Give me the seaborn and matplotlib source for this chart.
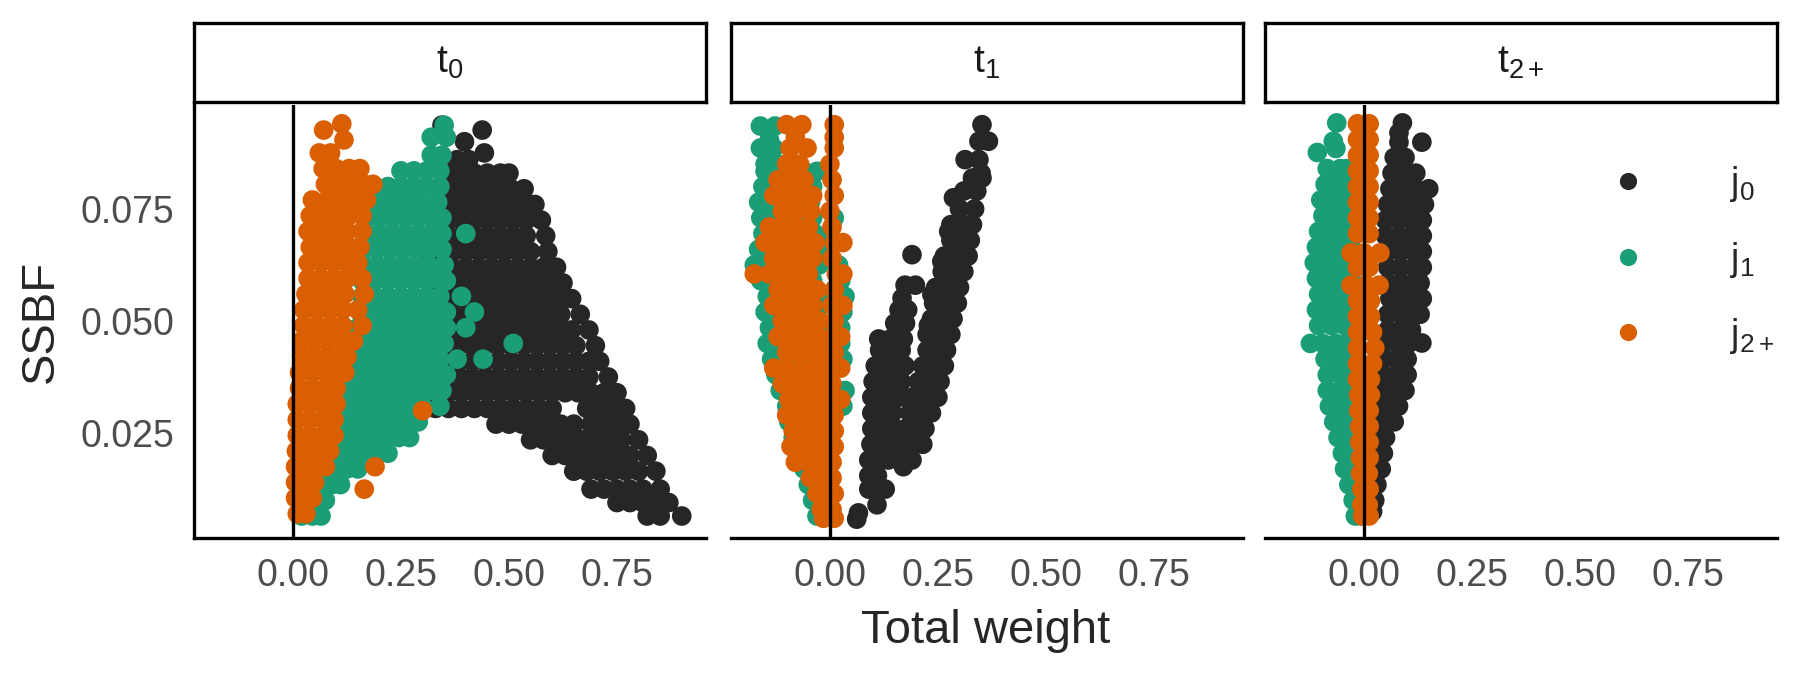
import matplotlib
matplotlib.use("Agg")
import matplotlib.pyplot as plt
import seaborn as sns
import pandas as pd

# Panels, groups and colours
panels = ["t0", "t1", "t2+"]
panel_titles = [r"$\mathregular{t_0}$", r"$\mathregular{t_1}$", r"$\mathregular{t_{2+}}$"]
groups = ["j0", "j1", "j2+"]
group_labels = [r"$\mathregular{j_0}$", r"$\mathregular{j_1}$", r"$\mathregular{j_{2+}}$"]
group_colors = ["#262626", "#1B9E77", "#D95F02"]

# Points, as (SSBF, [total weight, ...]) rows
t0_j0 = [
    (0.0937, [0.345]), (0.0926, [0.438]), (0.0900, [0.397]), (0.0875, [0.443]),
    (0.0860, [0.38, 0.407]),
    (0.0830, [0.36, 0.39, 0.42, 0.45, 0.48, 0.50]),
    (0.0795, [0.355, 0.385, 0.415, 0.445, 0.475, 0.505, 0.535]),
    (0.0760, [0.34, 0.37, 0.40, 0.43, 0.46, 0.49, 0.52, 0.55, 0.56]),
    (0.0725, [0.33, 0.36, 0.39, 0.42, 0.45, 0.48, 0.51, 0.54, 0.575]),
    (0.0690, [0.30, 0.33, 0.36, 0.39, 0.42, 0.45, 0.48, 0.51, 0.54, 0.585]),
    (0.0655, [0.31, 0.34, 0.37, 0.40, 0.43, 0.46, 0.49, 0.52, 0.55, 0.59]),
    (0.0620, [0.31, 0.34, 0.37, 0.40, 0.43, 0.46, 0.49, 0.52, 0.55, 0.58, 0.61]),
    (0.0585, [0.33, 0.36, 0.39, 0.42, 0.45, 0.48, 0.51, 0.54, 0.57, 0.60, 0.625]),
    (0.0550, [0.355, 0.385, 0.415, 0.445, 0.475, 0.505, 0.535, 0.565, 0.595, 0.625, 0.645]),
    (0.0515, [0.35, 0.38, 0.41, 0.44, 0.47, 0.50, 0.53, 0.56, 0.59, 0.62, 0.665]),
    (0.0480, [0.345, 0.375, 0.405, 0.435, 0.465, 0.495, 0.525, 0.555, 0.585, 0.615, 0.645, 0.685]),
    (0.0445, [0.355, 0.385, 0.415, 0.445, 0.475, 0.505, 0.535, 0.565, 0.595, 0.625, 0.655, 0.70]),
    (0.0410, [0.355, 0.385, 0.415, 0.445, 0.475, 0.505, 0.535, 0.565, 0.595, 0.625, 0.655, 0.685, 0.71]),
    (0.0375, [0.355, 0.385, 0.415, 0.445, 0.475, 0.505, 0.535, 0.565, 0.595, 0.625, 0.655, 0.685, 0.73]),
    (0.0340, [0.33, 0.36, 0.39, 0.42, 0.45, 0.48, 0.51, 0.54, 0.57, 0.60, 0.63, 0.66, 0.69, 0.72, 0.75]),
    (0.0305, [0.30, 0.33, 0.36, 0.39, 0.42, 0.45, 0.48, 0.51, 0.54, 0.57, 0.60, 0.68, 0.71, 0.74, 0.77]),
    (0.0270, [0.47, 0.50, 0.53, 0.56, 0.59, 0.62, 0.65, 0.69, 0.72, 0.75, 0.78]),
    (0.0235, [0.55, 0.58, 0.61, 0.64, 0.67, 0.70, 0.73, 0.76, 0.80]),
    (0.0200, [0.60, 0.63, 0.66, 0.69, 0.72, 0.75, 0.78, 0.82]),
    (0.0165, [0.65, 0.68, 0.71, 0.74, 0.77, 0.80, 0.84]),
    (0.0125, [0.69, 0.72, 0.75, 0.78, 0.81, 0.85]),
    (0.0095, [0.75, 0.78, 0.81, 0.84, 0.87]),
    (0.0065, [0.82, 0.85, 0.90]),
]
t0_j1 = [
    (0.0937, [0.35]), (0.0910, [0.32, 0.355]), (0.0870, [0.32, 0.345]),
    (0.0835, [0.25, 0.28, 0.31, 0.34]),
    (0.0800, [0.19, 0.22, 0.25, 0.28, 0.31, 0.34]),
    (0.0765, [0.18, 0.21, 0.24, 0.27, 0.30, 0.335]),
    (0.0730, [0.17, 0.20, 0.23, 0.26, 0.29, 0.32, 0.345]),
    (0.0695, [0.17, 0.20, 0.23, 0.26, 0.29, 0.32, 0.345, 0.40]),
    (0.0660, [0.165, 0.195, 0.225, 0.255, 0.285, 0.315, 0.345]),
    (0.0625, [0.165, 0.195, 0.225, 0.255, 0.285, 0.315, 0.35]),
    (0.0590, [0.16, 0.19, 0.22, 0.25, 0.28, 0.31, 0.34, 0.355]),
    (0.0555, [0.16, 0.19, 0.22, 0.25, 0.28, 0.31, 0.34, 0.39]),
    (0.0520, [0.155, 0.185, 0.215, 0.245, 0.275, 0.305, 0.335, 0.355, 0.42]),
    (0.0485, [0.15, 0.18, 0.21, 0.24, 0.27, 0.30, 0.33, 0.355, 0.40]),
    (0.0450, [0.14, 0.17, 0.20, 0.23, 0.26, 0.29, 0.32, 0.35, 0.51]),
    (0.0415, [0.13, 0.16, 0.19, 0.22, 0.25, 0.28, 0.31, 0.34, 0.38, 0.44]),
    (0.0380, [0.115, 0.145, 0.175, 0.205, 0.235, 0.265, 0.295, 0.325, 0.355]),
    (0.0345, [0.105, 0.135, 0.165, 0.195, 0.225, 0.255, 0.285, 0.315, 0.345]),
    (0.0310, [0.09, 0.12, 0.15, 0.18, 0.21, 0.24, 0.27, 0.30, 0.34]),
    (0.0275, [0.085, 0.115, 0.145, 0.175, 0.205, 0.235, 0.265, 0.29]),
    (0.0240, [0.065, 0.095, 0.125, 0.155, 0.185, 0.215, 0.245, 0.27]),
    (0.0205, [0.045, 0.075, 0.105, 0.135, 0.165, 0.195, 0.22]),
    (0.0170, [0.035, 0.065, 0.095, 0.125, 0.15]),
    (0.0135, [0.03, 0.06, 0.09, 0.11]),
    (0.0100, [0.025, 0.05, 0.075]),
    (0.0065, [0.02, 0.045, 0.065]),
]
t0_j2 = [
    (0.0940, [0.113]), (0.0926, [0.071]), (0.0904, [0.118]), (0.0875, [0.061, 0.087]),
    (0.0840, [0.07, 0.10, 0.13, 0.155]),
    (0.0805, [0.075, 0.105, 0.135, 0.165, 0.185]),
    (0.0770, [0.045, 0.08, 0.11, 0.14, 0.17]),
    (0.0735, [0.04, 0.07, 0.10, 0.13, 0.16]),
    (0.0700, [0.035, 0.065, 0.095, 0.125, 0.16]),
    (0.0665, [0.04, 0.07, 0.10, 0.13, 0.155]),
    (0.0630, [0.035, 0.065, 0.095, 0.125, 0.15]),
    (0.0595, [0.035, 0.065, 0.095, 0.125, 0.16]),
    (0.0560, [0.03, 0.06, 0.09, 0.12, 0.165]),
    (0.0525, [0.025, 0.055, 0.085, 0.115, 0.15]),
    (0.0490, [0.025, 0.055, 0.085, 0.115, 0.16]),
    (0.0455, [0.02, 0.05, 0.08, 0.11, 0.14]),
    (0.0420, [0.02, 0.05, 0.08, 0.11, 0.125]),
    (0.0385, [0.015, 0.045, 0.075, 0.105, 0.12]),
    (0.0350, [0.015, 0.045, 0.075, 0.10]),
    (0.0315, [0.01, 0.04, 0.07, 0.10]),
    (0.0300, [0.30]),
    (0.0280, [0.01, 0.04, 0.07, 0.095]),
    (0.0245, [0.01, 0.04, 0.07, 0.095]),
    (0.0210, [0.008, 0.035, 0.06, 0.085]),
    (0.0175, [0.006, 0.03, 0.055, 0.075, 0.19]),
    (0.0140, [0.006, 0.03, 0.05]),
    (0.0125, [0.165]),
    (0.0105, [0.006, 0.03, 0.045]),
    (0.0070, [0.01, 0.03]),
]
t1_j0 = [
    (0.0938, [0.352]), (0.0901, [0.345, 0.367]), (0.0860, [0.313, 0.345]),
    (0.0830, [0.35]), (0.0819, [0.33, 0.352]), (0.0790, [0.31, 0.34]),
    (0.0775, [0.286]), (0.0750, [0.30, 0.335]), (0.0715, [0.28, 0.31, 0.33]),
    (0.0700, [0.275]), (0.0680, [0.28, 0.31, 0.325]), (0.0645, [0.265, 0.29, 0.32]),
    (0.0648, [0.19]), (0.0633, [0.259]), (0.0610, [0.26, 0.285, 0.31]),
    (0.0580, [0.174, 0.198]), (0.0575, [0.245, 0.27, 0.30]), (0.0559, [0.236]),
    (0.0551, [0.167]), (0.0540, [0.24, 0.265, 0.295]), (0.0525, [0.16, 0.18]),
    (0.0505, [0.235, 0.26, 0.285]), (0.0495, [0.15, 0.175]), (0.0490, [0.228]),
    (0.0470, [0.225, 0.25, 0.28]), (0.0460, [0.113, 0.14, 0.17]),
    (0.0435, [0.115, 0.14, 0.165, 0.225, 0.25, 0.27]),
    (0.0400, [0.105, 0.13, 0.155, 0.174, 0.215, 0.24, 0.265]),
    (0.0365, [0.10, 0.125, 0.15, 0.165, 0.205, 0.23, 0.255]),
    (0.0330, [0.097, 0.12, 0.145, 0.16, 0.19, 0.215, 0.25]),
    (0.0295, [0.097, 0.12, 0.145, 0.185, 0.21, 0.235]),
    (0.0260, [0.097, 0.12, 0.15, 0.175, 0.20, 0.22]),
    (0.0225, [0.095, 0.12, 0.14, 0.17, 0.195, 0.215]),
    (0.0190, [0.09, 0.115, 0.135, 0.165, 0.19]),
    (0.0175, [0.17]), (0.0155, [0.09, 0.11]), (0.0125, [0.09, 0.128]),
    (0.0090, [0.109]), (0.0072, [0.066]), (0.0058, [0.062]),
]
t1_j1 = [
    (0.0935, [-0.161, -0.127]), (0.0905, [-0.14]), (0.0886, [-0.161, -0.130]),
    (0.0850, [-0.15, -0.12]),
    (0.0834, [-0.15, -0.12, -0.09, -0.06, -0.03]),
    (0.0800, [-0.155, -0.125, -0.095, -0.065, -0.04]),
    (0.0765, [-0.165, -0.135, -0.105, -0.075, -0.045]),
    (0.0730, [-0.16, -0.13, -0.10, -0.07, -0.04, 0.01]),
    (0.0695, [-0.155, -0.125, -0.095, -0.065, -0.035, 0.0]),
    (0.0660, [-0.165, -0.135, -0.105, -0.075, -0.045, -0.02]),
    (0.0625, [-0.175, -0.145, -0.115, -0.085, -0.055, -0.025, 0.02]),
    (0.0590, [-0.16, -0.13, -0.10, -0.07, -0.04, 0.025]),
    (0.0555, [-0.145, -0.115, -0.085, -0.055, -0.025, 0.035]),
    (0.0520, [-0.15, -0.12, -0.09, -0.06, -0.03, 0.03]),
    (0.0485, [-0.14, -0.11, -0.08, -0.05, -0.02, 0.025]),
    (0.0450, [-0.145, -0.115, -0.085, -0.055, -0.025, 0.025]),
    (0.0415, [-0.135, -0.105, -0.075, -0.045, -0.02, 0.03]),
    (0.0380, [-0.125, -0.095, -0.065, -0.035]),
    (0.0345, [-0.115, -0.085, -0.055, -0.03, 0.035]),
    (0.0310, [-0.10, -0.07, -0.04, 0.03]),
    (0.0275, [-0.095, -0.065, -0.035]),
    (0.0240, [-0.085, -0.055, -0.03]),
    (0.0205, [-0.075, -0.05, -0.025]),
    (0.0170, [-0.06, -0.035, -0.015]),
    (0.0135, [-0.05, -0.025]),
    (0.0100, [-0.04, -0.015]),
    (0.0065, [-0.03, -0.01]),
]
t1_j2 = [
    (0.0938, [-0.10, -0.065, 0.01]), (0.0910, [-0.08, 0.01]),
    (0.0886, [-0.092, -0.053, 0.01]), (0.0850, [-0.10, -0.07, 0.0]),
    (0.0815, [-0.12, -0.09, -0.06, 0.005]),
    (0.0780, [-0.13, -0.10, -0.07, -0.04, 0.01]),
    (0.0745, [-0.11, -0.08, -0.045, 0.0]),
    (0.0710, [-0.14, -0.11, -0.08, -0.05, 0.005]),
    (0.0675, [-0.15, -0.12, -0.09, -0.06, -0.035, 0.01, 0.03]),
    (0.0640, [-0.13, -0.10, -0.07, -0.04, 0.005]),
    (0.0605, [-0.175, -0.14, -0.11, -0.08, -0.05, 0.015, 0.03]),
    (0.0570, [-0.12, -0.09, -0.06, -0.03, 0.01]),
    (0.0535, [-0.13, -0.10, -0.07, -0.04, 0.005, 0.03]),
    (0.0500, [-0.11, -0.08, -0.05, -0.025, 0.01]),
    (0.0465, [-0.12, -0.09, -0.06, -0.03, 0.005, 0.025]),
    (0.0430, [-0.10, -0.07, -0.04, -0.02, 0.01]),
    (0.0395, [-0.13, -0.10, -0.07, -0.04, -0.015, 0.01, 0.025]),
    (0.0360, [-0.11, -0.08, -0.05, -0.02, 0.005]),
    (0.0325, [-0.095, -0.065, -0.04, -0.015, 0.01, 0.025]),
    (0.0290, [-0.10, -0.07, -0.045, -0.02, 0.01]),
    (0.0255, [-0.085, -0.06, -0.035, -0.01, 0.01]),
    (0.0220, [-0.09, -0.06, -0.035, -0.01, 0.01]),
    (0.0185, [-0.08, -0.05, -0.025, 0.005]),
    (0.0150, [-0.045, -0.02, 0.005]),
    (0.0115, [-0.03, -0.005, 0.01]),
    (0.0080, [-0.02, 0.005]),
    (0.0060, [-0.015, 0.01]),
]
t2_j0 = [
    (0.0942, [0.089]), (0.0920, [0.081]), (0.0899, [0.081, 0.134]),
    (0.0865, [0.07, 0.095]), (0.0830, [0.065, 0.095, 0.12]),
    (0.0795, [0.06, 0.09, 0.12, 0.15]), (0.0760, [0.055, 0.085, 0.115, 0.14]),
    (0.0725, [0.05, 0.08, 0.11, 0.135]), (0.0690, [0.05, 0.08, 0.11, 0.135]),
    (0.0655, [0.055, 0.085, 0.115, 0.135]), (0.0620, [0.055, 0.085, 0.115, 0.135]),
    (0.0585, [0.055, 0.085, 0.115, 0.13]), (0.0550, [0.06, 0.09, 0.12, 0.135]),
    (0.0515, [0.055, 0.085, 0.115, 0.13]), (0.0480, [0.055, 0.085, 0.11]),
    (0.0451, [0.05, 0.08, 0.105, 0.134]), (0.0415, [0.045, 0.075, 0.10]),
    (0.0380, [0.045, 0.075, 0.10]), (0.0345, [0.035, 0.065, 0.095]),
    (0.0310, [0.035, 0.06, 0.08]), (0.0275, [0.03, 0.055, 0.07]),
    (0.0240, [0.025, 0.05]), (0.0205, [0.02, 0.045]), (0.0170, [0.02, 0.04]),
    (0.0135, [0.015, 0.03]), (0.0100, [0.01, 0.025]), (0.0075, [0.005, 0.02]),
]
t2_j1 = [
    (0.0942, [-0.063]), (0.0901, [-0.071]), (0.0885, [-0.065]), (0.0876, [-0.108]),
    (0.0840, [-0.085, -0.055, -0.04]), (0.0805, [-0.09, -0.06, -0.035]),
    (0.0770, [-0.10, -0.07, -0.04]), (0.0735, [-0.095, -0.065, -0.035]),
    (0.0700, [-0.105, -0.075, -0.045, -0.03]), (0.0665, [-0.11, -0.08, -0.05, -0.03]),
    (0.0630, [-0.115, -0.085, -0.055, -0.03]), (0.0595, [-0.11, -0.08, -0.05, -0.03]),
    (0.0560, [-0.105, -0.075, -0.045, -0.03]), (0.0525, [-0.11, -0.08, -0.05, -0.035]),
    (0.0490, [-0.105, -0.075, -0.045, -0.035]), (0.0450, [-0.124, -0.095, -0.065, -0.04]),
    (0.0415, [-0.09, -0.06, -0.035]), (0.0380, [-0.085, -0.055, -0.03]),
    (0.0345, [-0.085, -0.055, -0.03]), (0.0310, [-0.08, -0.05, -0.025]),
    (0.0275, [-0.07, -0.045, -0.025]), (0.0240, [-0.06, -0.04, -0.02]),
    (0.0205, [-0.05, -0.03]), (0.0170, [-0.045, -0.025]), (0.0135, [-0.035, -0.015]),
    (0.0100, [-0.025, -0.01]), (0.0065, [-0.02, -0.005]),
]
t2_j2 = [
    (0.0940, [-0.015, 0.012]), (0.0905, [-0.015, 0.012]), (0.0870, [-0.015, 0.012]),
    (0.0835, [-0.015, 0.012]), (0.0800, [-0.015, 0.012]), (0.0765, [-0.015, 0.012]),
    (0.0730, [-0.015, 0.012]), (0.0695, [-0.015, 0.012]), (0.0652, [-0.03, 0.0, 0.037]),
    (0.0620, [-0.015, 0.012]), (0.0580, [-0.03, 0.005, 0.035]), (0.0545, [-0.015, 0.015]),
    (0.0510, [-0.015, 0.015]), (0.0475, [-0.015, 0.02]), (0.0440, [-0.015, 0.025]),
    (0.0405, [-0.015, 0.02]), (0.0370, [-0.015, 0.015]), (0.0335, [-0.012, 0.015]),
    (0.0300, [-0.012, 0.012]), (0.0265, [-0.01, 0.012]), (0.0230, [-0.01, 0.012]),
    (0.0195, [-0.008, 0.012]), (0.0160, [-0.008, 0.01]), (0.0125, [-0.005, 0.012]),
    (0.0090, [-0.005, 0.01]), (0.0065, [-0.003, 0.012]),
]

panel_rows = {
    "t0": [t0_j0, t0_j1, t0_j2],
    "t1": [t1_j0, t1_j1, t1_j2],
    "t2+": [t2_j0, t2_j1, t2_j2],
}

records = []
for p in panels:
    for g, rows in zip(groups, panel_rows[p]):
        for y, xs in rows:
            for x in xs:
                records.append({"panel": p, "group": g, "weight": x, "ssbf": y})
df = pd.DataFrame(records)

sns.set_style("white")
plt.rcParams["font.family"] = ["Liberation Sans", "DejaVu Sans"]
plt.rcParams["mathtext.fontset"] = "custom"
plt.rcParams["mathtext.rm"] = "Liberation Sans"
plt.rcParams["mathtext.it"] = "Liberation Sans:italic"

fig = plt.figure(figsize=(9, 3.375), dpi=200)

lefts = [0.1078, 0.4061, 0.7028]
width = 0.2844
bottom, height = 0.2030, 0.6415
strip_bottom, strip_height = 0.8489, 0.117

for i, p in enumerate(panels):
    ax = fig.add_axes([lefts[i], bottom, width, height])
    sns.scatterplot(data=df[df["panel"] == p], x="weight", y="ssbf",
                    hue="group", hue_order=groups, palette=group_colors,
                    s=50, linewidth=0, alpha=1, legend=False, ax=ax, zorder=2)
    ax.axvline(0, color="black", linewidth=1.2, zorder=3)
    ax.set_xlim(-0.229, 0.956)
    ax.set_ylim(0.0016, 0.0982)
    ax.set_xticks([0, 0.25, 0.5, 0.75])
    ax.set_xticklabels(["0.00", "0.25", "0.50", "0.75"])
    ax.set_xlabel("")
    ax.set_ylabel("")
    for side in ["top", "right"]:
        ax.spines[side].set_visible(False)
    ax.spines["bottom"].set_linewidth(1.2)
    ax.spines["bottom"].set_color("black")
    ax.tick_params(axis="x", length=3.6, width=1.1, color="#333333",
                   labelsize=13.5, labelcolor="#4D4D4D", pad=3.5)
    if i == 0:
        ax.set_yticks([0.025, 0.05, 0.075])
        ax.set_yticklabels(["0.025", "0.050", "0.075"])
        ax.spines["left"].set_linewidth(1.2)
        ax.spines["left"].set_color("black")
        ax.tick_params(axis="y", length=3.6, width=1.1, color="#333333",
                       labelsize=13.5, labelcolor="#4D4D4D", pad=3.5)
    else:
        ax.spines["left"].set_visible(False)
        ax.set_yticks([])

    sax = fig.add_axes([lefts[i], strip_bottom, width, strip_height])
    sax.set_xticks([])
    sax.set_yticks([])
    for sp in sax.spines.values():
        sp.set_visible(True)
        sp.set_linewidth(1.2)
        sp.set_color("black")
    sax.text(0.5, 0.5, panel_titles[i], ha="center", va="center",
             fontsize=14, color="#1A1A1A", transform=sax.transAxes)

fig.text(0.0228, 0.524, "SSBF", rotation=90, ha="center", va="center", fontsize=17)
fig.text(0.5475, 0.0474, "Total weight", ha="center", va="baseline", fontsize=17)

handles = [plt.Line2D([], [], marker="o", linestyle="", markersize=6.2,
                      markerfacecolor=c, markeredgewidth=0) for c in group_colors]
fig.legend(handles, group_labels, loc="center", bbox_to_anchor=(0.94, 0.615),
           frameon=False, fontsize=13.5, handletextpad=2.2, labelspacing=0.95,
           handlelength=1.0)

fig.savefig("out.png", dpi=200)
